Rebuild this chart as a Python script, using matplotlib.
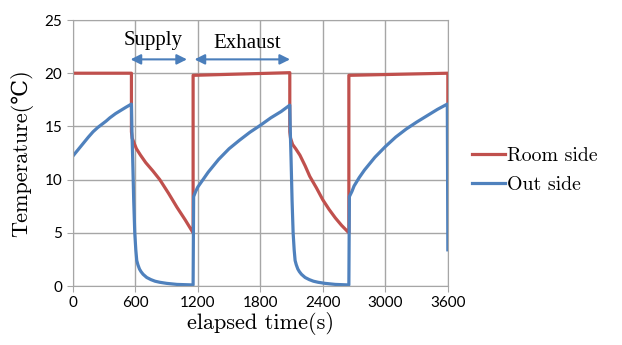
import matplotlib
matplotlib.use("Agg")
import matplotlib.pyplot as plt

# values
t_room = [0, 563, 563, 570, 590, 611, 650, 700, 770, 835, 920, 1000, 1080, 1155, 1155,
          2083, 2083, 2090, 2110, 2140, 2180, 2230, 2275, 2340, 2400, 2460, 2520, 2580,
          2650, 2650, 3600, 3600]
room = [20.0, 20.0, 14.5, 13.9, 13.4, 12.9, 12.3, 11.6, 10.8, 10.0, 8.7, 7.4, 6.2, 5.0, 19.8,
        20.05, 14.5, 13.9, 13.3, 12.9, 12.3, 11.3, 10.3, 9.2, 8.1, 7.2, 6.4, 5.7,
        5.0, 19.8, 20.0, 14.0]

t_out = [0, 50, 100, 150, 195, 240, 280, 320, 355, 410, 460, 510, 563,
         568, 575, 585, 595, 605, 614, 625, 640, 655, 675, 710, 750, 790, 835, 900, 1000, 1155,
         1160, 1180, 1200, 1250, 1300, 1350, 1400, 1450, 1500, 1550, 1600, 1700, 1800, 1900,
         2000, 2083,
         2088, 2095, 2105, 2115, 2125, 2134, 2145, 2160, 2175, 2195, 2230, 2270, 2310, 2355,
         2420, 2520, 2650,
         2655, 2680, 2700, 2750, 2800, 2850, 2900, 2950, 3000, 3050, 3100, 3200, 3300, 3400,
         3500, 3595, 3600]
out = [12.2, 12.8, 13.4, 14.0, 14.5, 14.9, 15.2, 15.5, 15.8, 16.2, 16.5, 16.8, 17.1,
       14.5, 12.0, 8.0, 5.0, 3.4, 2.4, 2.0, 1.6, 1.35, 1.1, 0.8, 0.6, 0.45, 0.35, 0.25, 0.15, 0.1,
       8.4, 8.9, 9.3, 10.0, 10.7, 11.3, 11.9, 12.4, 12.9, 13.3, 13.7, 14.45, 15.1, 15.8,
       16.4, 17.0,
       14.5, 12.0, 8.0, 5.0, 3.4, 2.4, 2.0, 1.6, 1.35, 1.1, 0.8, 0.6, 0.45, 0.35,
       0.25, 0.15, 0.1,
       8.4, 8.9, 9.4, 10.2, 10.9, 11.5, 12.1, 12.6, 13.1, 13.55, 14.0, 14.75, 15.4, 16.0,
       16.6, 17.1, 3.4]

x_ticks = [0, 600, 1200, 1800, 2400, 3000, 3600]
y_ticks = [0, 5, 10, 15, 20, 25]

red = "#c0504d"
blue = "#4f81bd"
serif = ["cmr10", "DejaVu Serif"]

fig = plt.figure(figsize=(6.22, 3.45), dpi=100)
ax = fig.add_axes([0.117, 0.171, 0.603, 0.771])

ax.plot(t_room, room, color=red, lw=2.3, label="Room side")
ax.plot(t_out, out, color=blue, lw=2.3, label="Out side")

ax.set_xlim(0, 3600)
ax.set_ylim(0, 25)
ax.set_xticks(x_ticks)
ax.set_yticks(y_ticks)
ax.grid(True, color="#a6a6a6", lw=1)
ax.set_axisbelow(True)
for s in ax.spines.values():
    s.set_color("#a6a6a6")
ax.tick_params(colors="#a6a6a6", labelcolor="black", labelsize=11, length=4)
for lab in ax.get_xticklabels() + ax.get_yticklabels():
    lab.set_family("Lato")

ax.set_xlabel("elapsed time(s)", family=serif, fontsize=16, labelpad=1)
ax.set_ylabel("Temperature(℃)", family=serif, fontsize=16, labelpad=8)

# supply / exhaust arrows
arr = dict(arrowstyle="<|-|>", color="#4a7ebb", lw=1.5, mutation_scale=15)
ax.annotate("", xy=(528, 21.3), xytext=(1123, 21.3), arrowprops=arr)
ax.annotate("", xy=(1142, 21.3), xytext=(2112, 21.3), arrowprops=arr)
ax.text(768, 23.1, "Supply", ha="center", va="center", family="Liberation Serif", fontsize=15)
ax.text(1670, 22.8, "Exhaust", ha="center", va="center", family="Liberation Serif", fontsize=15)

leg = fig.legend(loc="center left", bbox_to_anchor=(0.730, 0.505), frameon=False,
                 prop={"family": serif, "size": 14.3}, handlelength=1.65,
                 handletextpad=0.1, labelspacing=0.55)

fig.savefig("out.png", dpi=100)
